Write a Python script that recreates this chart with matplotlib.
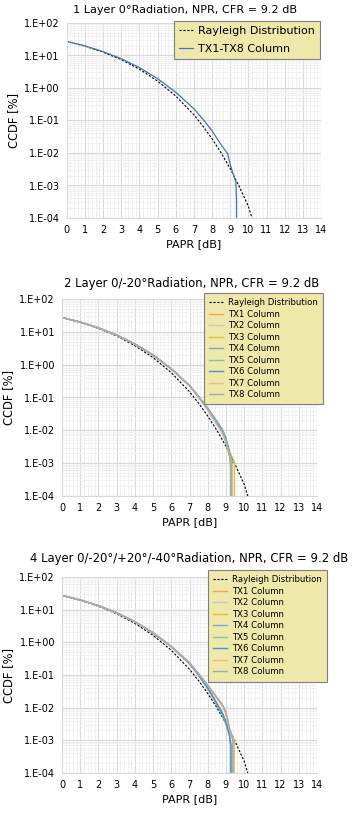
import matplotlib
matplotlib.use("Agg")
import matplotlib.pyplot as plt
from matplotlib.ticker import FixedLocator, FixedFormatter, MultipleLocator, LogLocator, NullFormatter

plt.rcParams['font.family'] = ['DejaVu Sans']

W, H = 352, 813

titles = [
    "1 Layer 0°Radiation, NPR, CFR = 9.2 dB",
    "2 Layer 0/-20°Radiation, NPR, CFR = 9.2 dB",
    "4 Layer 0/-20°/+20°/-40°Radiation, NPR, CFR = 9.2 dB",
]
x_ticks = list(range(0, 15))
y_ticks = [1e-4, 1e-3, 1e-2, 1e-1, 1e0, 1e1, 1e2]
y_tick_labels = ["1.E-04", "1.E-03", "1.E-02", "1.E-01", "1.E+00", "1.E+01", "1.E+02"]

# Rayleigh reference curve (PAPR dB, CCDF %)
rayleigh_x = [0, 1, 2, 3, 4, 5, 6, 7, 7.5, 8, 8.5, 9, 9.5, 10, 10.2]
rayleigh_y = [27.3, 19.5, 12.7, 7.5, 3.8, 1.64, 0.57, 0.15, 0.067, 0.0274, 0.0101, 0.0033, 0.00093, 0.00023, 0.0001]

# Panel 1: TX1-TX8 column
p1_x = [0, 1, 2, 3, 4, 5, 6, 7, 7.5, 8, 8.5, 8.86, 9.0, 9.17, 9.31, 9.35, 9.35]
p1_y = [27.3, 19.8, 13.2, 8.0, 4.25, 1.95, 0.74, 0.23, 0.11, 0.048, 0.018, 0.0095, 0.0045, 0.0022, 0.0013, 0.00035, 0.00001]

# Panels 2 and 3: common PAPR grid for TX1..TX8
tx_x = [0, 1, 2, 3, 4, 5, 6, 7, 7.5, 8, 8.5, 8.8, 9.0, 9.2]

p2_tx1 = [27.3, 19.8, 13.2, 8.0, 4.25, 1.95, 0.74, 0.23, 0.105, 0.044, 0.017, 0.0092, 0.0050, 0.0019]
p2_tx2 = [27.3, 19.8, 13.2, 8.0, 4.25, 1.95, 0.74, 0.23, 0.104, 0.043, 0.016, 0.0085, 0.0045, 0.0016]
p2_tx3 = [27.3, 19.8, 13.2, 8.0, 4.25, 1.96, 0.75, 0.23, 0.107, 0.046, 0.018, 0.0100, 0.0056, 0.0022]
p2_tx4 = [27.3, 19.8, 13.2, 8.0, 4.25, 1.95, 0.74, 0.23, 0.105, 0.044, 0.016, 0.0090, 0.0048, 0.0018]
p2_tx5 = [27.3, 19.8, 13.2, 8.0, 4.25, 1.95, 0.74, 0.23, 0.103, 0.042, 0.015, 0.0083, 0.0044, 0.0016]
p2_tx6 = [27.3, 19.8, 13.2, 8.0, 4.25, 1.96, 0.75, 0.23, 0.107, 0.047, 0.019, 0.0105, 0.0058, 0.0021]
p2_tx7 = [27.3, 19.8, 13.2, 8.0, 4.25, 1.95, 0.74, 0.23, 0.105, 0.044, 0.016, 0.0090, 0.0049, 0.0018]
p2_tx8 = [27.3, 19.8, 13.2, 8.0, 4.25, 1.95, 0.74, 0.23, 0.106, 0.045, 0.017, 0.0094, 0.0051, 0.0019]
p2_end = [9.3, 9.25, 9.47, 9.3, 9.25, 9.35, 9.35, 9.3]

p3_tx1 = [27.3, 19.8, 13.2, 8.0, 4.25, 1.96, 0.75, 0.235, 0.108, 0.048, 0.020, 0.0120, 0.0072, 0.0022]
p3_tx2 = [27.3, 19.8, 13.2, 8.0, 4.25, 1.96, 0.75, 0.235, 0.108, 0.048, 0.020, 0.0116, 0.0068, 0.0021]
p3_tx3 = [27.3, 19.8, 13.2, 8.0, 4.25, 1.96, 0.75, 0.235, 0.107, 0.047, 0.019, 0.0112, 0.0066, 0.0020]
p3_tx4 = [27.3, 19.8, 13.2, 8.0, 4.25, 1.95, 0.74, 0.225, 0.100, 0.041, 0.014, 0.0072, 0.0038, 0.0015]
p3_tx5 = [27.3, 19.8, 13.2, 8.0, 4.25, 1.94, 0.73, 0.22, 0.097, 0.038, 0.012, 0.0060, 0.0031, 0.0013]
p3_tx6 = [27.3, 19.8, 13.2, 8.0, 4.25, 1.95, 0.74, 0.225, 0.099, 0.040, 0.013, 0.0066, 0.0035, 0.0014]
p3_tx7 = [27.3, 19.8, 13.2, 8.0, 4.25, 1.96, 0.75, 0.235, 0.108, 0.048, 0.020, 0.0120, 0.0070, 0.0022]
p3_tx8 = [27.3, 19.8, 13.2, 8.0, 4.25, 1.96, 0.75, 0.24, 0.109, 0.049, 0.021, 0.0125, 0.0076, 0.0023]
p3_end = [9.42, 9.35, 9.45, 9.25, 9.25, 9.28, 9.4, 9.38]

tx_labels = ["TX1 Column", "TX2 Column", "TX3 Column", "TX4 Column",
             "TX5 Column", "TX6 Column", "TX7 Column", "TX8 Column"]
tx_colors = ["#F2A65A", "#C8C8C8", "#D9C23C", "#86A8CC",
             "#86C4A4", "#4F8FD6", "#F4B88A", "#A9A9A9"]

fig = plt.figure(figsize=(W / 100, H / 100), dpi=100)
fig.patch.set_facecolor("white")


def make_axes(left, right, top, bottom):
    ax = fig.add_axes([left / W, 1 - bottom / H, (right - left) / W, (bottom - top) / H])
    ax.set_yscale("log")
    ax.set_xlim(0, 14)
    ax.set_ylim(1e-4, 1e2)
    ax.xaxis.set_major_locator(FixedLocator(x_ticks))
    ax.xaxis.set_minor_locator(MultipleLocator(0.2))
    ax.yaxis.set_major_locator(FixedLocator(y_ticks))
    ax.yaxis.set_major_formatter(FixedFormatter(y_tick_labels))
    ax.yaxis.set_minor_locator(LogLocator(base=10, subs=range(2, 10), numticks=20))
    ax.yaxis.set_minor_formatter(NullFormatter())
    ax.grid(which="major", color="#D9D9D9", linewidth=0.8)
    ax.grid(which="minor", color="#EFEFEF", linewidth=0.6)
    ax.set_axisbelow(True)
    for s in ["top", "right"]:
        ax.spines[s].set_visible(False)
    for s in ["left", "bottom"]:
        ax.spines[s].set_color("#D9D9D9")
        ax.spines[s].set_linewidth(0.8)
    ax.tick_params(which="both", length=0, labelsize=7, pad=5)
    ax.set_xlabel("PAPR [dB]", fontsize=8, labelpad=3)
    ax.set_ylabel("CCDF [%]", fontsize=8.3, labelpad=3)
    return ax


legend_face = "#EEE8AA"
legend_edge = "#7F7F7F"

# ---- Panel 1
ax1 = make_axes(66.7, 321, 23, 218)
ax1.plot(rayleigh_x, rayleigh_y, color="black", linestyle=(0, (2, 1.5)), linewidth=0.8, label="Rayleigh Distribution")
ax1.plot(p1_x, p1_y, color="#4472C4", linewidth=0.9, label="TX1-TX8 Column")
fig.text(185 / W, 1 - 10 / H, titles[0], ha="center", va="center", fontsize=8.1)
leg1 = ax1.legend(loc="upper left", bbox_to_anchor=(174 / W, 1 - 21 / H), bbox_transform=fig.transFigure,
                  borderaxespad=0, fontsize=8, frameon=True, fancybox=False, framealpha=1,
                  facecolor=legend_face, edgecolor=legend_edge, handlelength=1.25,
                  labelspacing=0.75, borderpad=0.45, handletextpad=0.5)
leg1.get_frame().set_linewidth(0.8)

# ---- Panel 2 and 3
panels = [
    (299, 496, 284, 192, titles[1], [p2_tx1, p2_tx2, p2_tx3, p2_tx4, p2_tx5, p2_tx6, p2_tx7, p2_tx8], p2_end, (204, 293)),
    (577, 773, 558, 189, titles[2], [p3_tx1, p3_tx2, p3_tx3, p3_tx4, p3_tx5, p3_tx6, p3_tx7, p3_tx8], p3_end, (208, 570)),
]
for (top, bottom, title_y, title_x, title, series, ends, leg_xy) in panels:
    ax = make_axes(62, 317, top, bottom)
    ax.plot(rayleigh_x, rayleigh_y, color="black", linestyle=(0, (2, 1.5)), linewidth=0.8, label="Rayleigh Distribution")
    for ys, xe, lab, col in zip(series, ends, tx_labels, tx_colors):
        ax.plot(tx_x + [xe, xe], ys + [ys[-1] * 0.5, 1e-5], color=col, linewidth=1.0, label=lab)
    fig.text(title_x / W, 1 - title_y / H, title, ha="center", va="center", fontsize=8.4)
    leg = ax.legend(loc="upper left", bbox_to_anchor=(leg_xy[0] / W, 1 - leg_xy[1] / H), bbox_transform=fig.transFigure,
                    borderaxespad=0, fontsize=6.1, frameon=True, fancybox=False, framealpha=1,
                    facecolor=legend_face, edgecolor=legend_edge, handlelength=1.6,
                    labelspacing=0.3, borderpad=0.6, handletextpad=0.6)
    leg.get_frame().set_linewidth(0.8)

fig.savefig("out.png", dpi=100)
